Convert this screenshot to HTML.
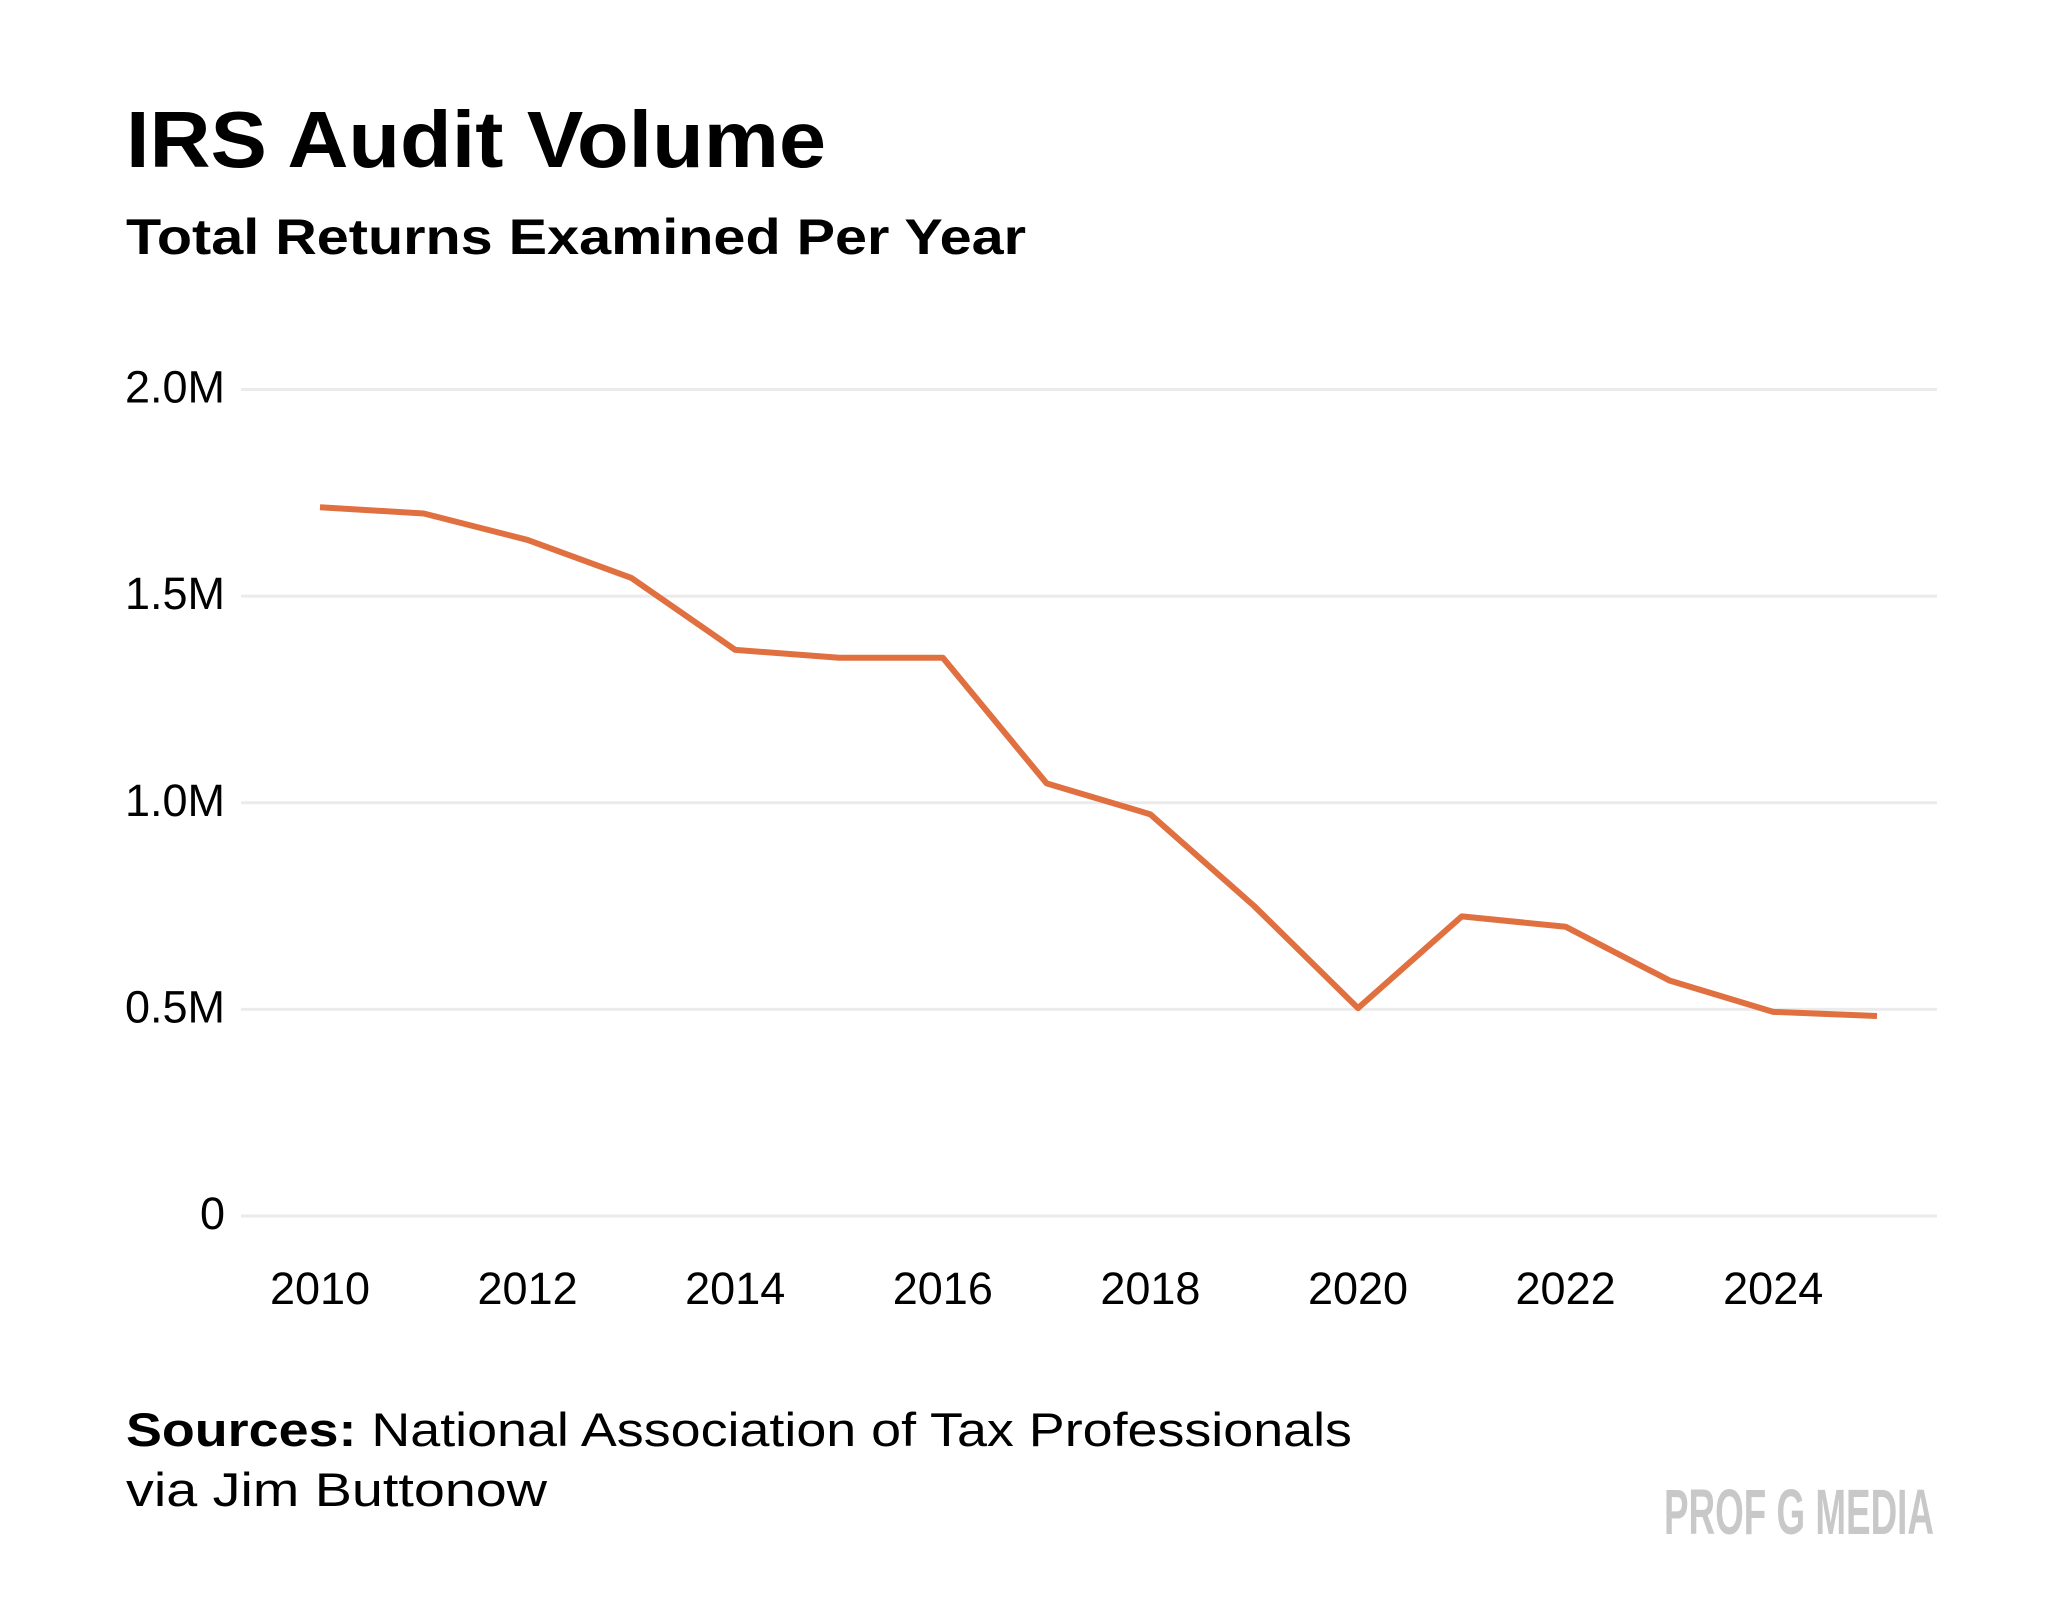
<!DOCTYPE html>
<html><head><meta charset="utf-8"><style>
html,body{margin:0;padding:0;background:#fff}
svg{display:block}
text{font-family:"Liberation Sans",sans-serif;fill:#000}
</style></head><body>
<svg width="2048" height="1612" viewBox="0 0 2048 1612">
<text x="126" y="167" font-size="80" font-weight="bold" textLength="700" lengthAdjust="spacingAndGlyphs">IRS Audit Volume</text>
<text x="126" y="254" font-size="50" font-weight="bold" textLength="900" lengthAdjust="spacingAndGlyphs">Total Returns Examined Per Year</text>
<g id="grid"></g>
<g id="ylabels"></g>
<g id="xlabels"></g>
<path id="line" fill="none" stroke="#E07040" stroke-width="6" stroke-linejoin="round"/>
<text x="126" y="1446" font-size="47" textLength="1226" lengthAdjust="spacingAndGlyphs"><tspan font-weight="bold">Sources:</tspan> National Association of Tax Professionals</text>
<text x="126" y="1506" font-size="47" textLength="421" lengthAdjust="spacingAndGlyphs">via Jim Buttonow</text>
<text x="1934" y="1534" font-size="64" font-weight="bold" text-anchor="end" textLength="270" lengthAdjust="spacingAndGlyphs" style="fill:#c8c8c8">PROF G MEDIA</text>
</svg>
<script>
const years=[2010,2011,2012,2013,2014,2015,2016,2017,2018,2019,2020,2021,2022,2023,2024,2025];
const values=[1.715,1.70,1.636,1.544,1.37,1.351,1.351,1.047,0.972,0.75,0.503,0.725,0.70,0.57,0.494,0.484];
const yTicks=[0,0.5,1.0,1.5,2.0];
const yTickLabels=["0","0.5M","1.0M","1.5M","2.0M"];
const xTicks=[2010,2012,2014,2016,2018,2020,2022,2024];
const NS="http://www.w3.org/2000/svg";
function xs(yr){return 320+(yr-2010)*(1877-320)/15;}
function ys(v){return 1216-v*(1216-389.5)/2;}
const grid=document.getElementById('grid'),yl=document.getElementById('ylabels'),xl=document.getElementById('xlabels');
yTicks.forEach((t,i)=>{
  const l=document.createElementNS(NS,'line');
  
  
  l.setAttribute('x1',241);l.setAttribute('x2',1937);
  l.setAttribute('y1',ys(t));l.setAttribute('y2',ys(t));
  l.setAttribute('stroke','#ebebeb');l.setAttribute('stroke-width','3');
  grid.appendChild(l);
  const tx=document.createElementNS(NS,'text');
  
  
  tx.setAttribute('x',225);tx.setAttribute('y',ys(t)+13);
  tx.setAttribute('text-anchor','end');tx.setAttribute('font-size','45');
  tx.textContent=yTickLabels[i];
  yl.appendChild(tx);
});
xTicks.forEach(t=>{
  const tx=document.createElementNS(NS,'text');
  
  
  tx.setAttribute('x',xs(t));tx.setAttribute('y',1304);
  tx.setAttribute('text-anchor','middle');tx.setAttribute('font-size','45');
  tx.textContent=t;
  xl.appendChild(tx);
});
document.getElementById('line').setAttribute('d',years.map((y,i)=>(i?'L':'M')+xs(y)+' '+ys(values[i])).join(' '));
</script>
</body></html>
